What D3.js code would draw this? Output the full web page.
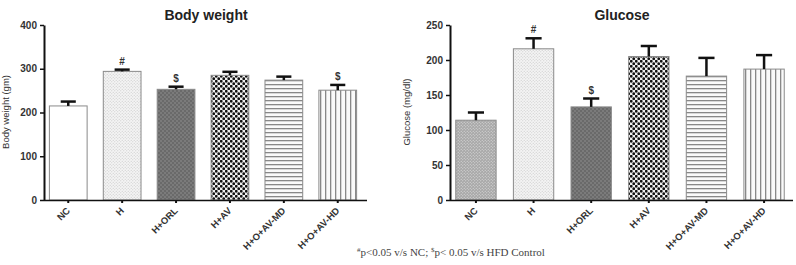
<!DOCTYPE html>
<html>
<head>
<meta charset="utf-8">
<script src="https://cdn.jsdelivr.net/npm/d3@7"></script>
<style>
  body { margin: 0; background: #fff; }
  text { font-family: Arial, "Liberation Sans", sans-serif; }
</style>
</head>
<body>
<svg id="chart" width="796" height="265"></svg>
<script>
const groups = ['NC', 'H', 'H+ORL', 'H+AV', 'H+O+AV-MD', 'H+O+AV-HD'];
const bodyWeight = [215, 294, 253, 285, 274, 251];
const bodyWeightErr = [10, 4, 6, 8, 8, 12];
const bodyWeightMarks = ['', '#', '$', '', '', '$'];
const glucose = [114, 216, 133, 205, 177, 187];
const glucoseErr = [11, 15, 12, 15, 26, 20];
const glucoseMarks = ['', '#', '$', '', '', ''];
const bodyTicks = [0, 100, 200, 300, 400];
const glucoseTicks = [0, 50, 100, 150, 200, 250];

const svg = d3.select('#chart');
const defs = svg.append('defs');

//patterns
function dotPattern(id, size, bg, dot, r) {
  let p = defs.append('pattern').attr('id', id).attr('patternUnits', 'userSpaceOnUse')
              .attr('width', size).attr('height', size);
  p.append('rect').attr('width', size).attr('height', size).attr('fill', bg);
  p.append('circle').attr('cx', size/4).attr('cy', size/4).attr('r', r).attr('fill', dot);
  p.append('circle').attr('cx', size*3/4).attr('cy', size*3/4).attr('r', r).attr('fill', dot);
}
dotPattern('pNCg', 3, '#a8a8a8', '#e0e0e0', 0.6);
dotPattern('pH', 3, '#f4f4f4', '#c8c8c8', 0.6);
dotPattern('pORL', 4, '#6a6a6a', '#9a9a9a', 0.7);
dotPattern('pAV', 5, '#f0f0f0', '#111', 1.4);
let ph = defs.append('pattern').attr('id', 'pMD').attr('patternUnits', 'userSpaceOnUse')
             .attr('width', 4).attr('height', 4);
ph.append('rect').attr('width', 4).attr('height', 4).attr('fill', '#fafafa');
ph.append('rect').attr('width', 4).attr('height', 1.3).attr('fill', '#888');
let pv = defs.append('pattern').attr('id', 'pHD').attr('patternUnits', 'userSpaceOnUse')
             .attr('width', 5).attr('height', 5);
pv.append('rect').attr('width', 5).attr('height', 5).attr('fill', '#fafafa');
pv.append('rect').attr('width', 1.3).attr('height', 5).attr('fill', '#888');

const fillsBody = ['#fff', 'url(#pH)', 'url(#pORL)', 'url(#pAV)', 'url(#pMD)', 'url(#pHD)'];
const fillsGlucose = ['url(#pNCg)', 'url(#pH)', 'url(#pORL)', 'url(#pAV)', 'url(#pMD)', 'url(#pHD)'];

function drawPanel(opt) {
  const g = svg.append('g');
  const x = d3.scaleBand().domain(groups).range([opt.x0, opt.x1]).paddingInner(0.3).paddingOuter(0.1);
  const y = d3.scaleLinear().domain([0, opt.max]).range([200, 25]);

  //bars
  g.selectAll('rect.bar').data(groups).enter().append('rect')
    .attr('class', 'bar')
    .attr('x', d => x(d))
    .attr('width', x.bandwidth())
    .attr('y', (d, i) => y(opt.values[i]))
    .attr('height', (d, i) => 200 - y(opt.values[i]))
    .attr('fill', (d, i) => opt.fills[i])
    .attr('stroke', '#8a8a8a')
    .attr('stroke-width', 1);

  //error bars (upper only)
  const cap = x.bandwidth() * 0.4;
  groups.forEach((d, i) => {
    let cx = x(d) + x.bandwidth()/2;
    let top = y(opt.values[i] + opt.errs[i]);
    g.append('line').attr('x1', cx).attr('x2', cx)
      .attr('y1', y(opt.values[i])).attr('y2', top)
      .attr('stroke', '#111').attr('stroke-width', 2.5);
    g.append('line').attr('x1', cx - cap/2).attr('x2', cx + cap/2)
      .attr('y1', top).attr('y2', top)
      .attr('stroke', '#111').attr('stroke-width', 2.5);
    if(opt.marks[i]) {
      g.append('text').attr('x', cx).attr('y', top - 5)
        .attr('text-anchor', 'middle').attr('font-size', 10).attr('font-weight', 'bold')
        .attr('fill', '#333').text(opt.marks[i]);
    }
  });

  //y axis
  const yAxis = g.append('g').attr('transform', `translate(${opt.x0},0)`)
    .call(d3.axisLeft(y).tickValues(opt.ticks).tickSize(4).tickSizeOuter(0));
  yAxis.select('.domain').attr('stroke', '#111').attr('stroke-width', 2);
  yAxis.selectAll('.tick line').attr('stroke', '#111').attr('stroke-width', 1.5);
  yAxis.selectAll('.tick text').attr('font-size', 10).attr('font-weight', 'bold').attr('fill', '#333');

  //x axis
  const xAxis = g.append('g').attr('transform', 'translate(0,200)')
    .call(d3.axisBottom(x).tickSize(3).tickSizeOuter(0));
  xAxis.select('.domain').attr('stroke', '#111').attr('stroke-width', 1.5)
    .attr('d', `M${opt.x0},0.5H${opt.xEnd}`);
  xAxis.selectAll('.tick line').attr('stroke', '#111').attr('stroke-width', 2);
  xAxis.selectAll('.tick text')
    .attr('font-size', 9.5).attr('font-weight', 'bold').attr('fill', '#333')
    .attr('text-anchor', 'end')
    .attr('transform', 'translate(0,9) rotate(-45)')
    .attr('dy', '0.35em').attr('y', 0).attr('x', 0);

  //titles
  g.append('text').attr('x', opt.titleX).attr('y', 20)
    .attr('text-anchor', 'middle').attr('font-size', 14).attr('font-weight', 'bold')
    .attr('fill', '#222').text(opt.title);
  g.append('text')
    .attr('transform', `translate(${opt.labelX},112) rotate(-90)`)
    .attr('text-anchor', 'middle').attr('font-size', 9.5).attr('fill', '#333')
    .text(opt.label);
}

drawPanel({x0: 44, x1: 362, xEnd: 367, max: 400, values: bodyWeight, errs: bodyWeightErr,
  marks: bodyWeightMarks, ticks: bodyTicks, fills: fillsBody,
  title: 'Body weight', titleX: 206, label: 'Body weight (gm)', labelX: 9});
drawPanel({x0: 450, x1: 790, xEnd: 793, max: 250, values: glucose, errs: glucoseErr,
  marks: glucoseMarks, ticks: glucoseTicks, fills: fillsGlucose,
  title: 'Glucose', titleX: 622, label: 'Glucose (mg/dl)', labelX: 410});

//footnote
const foot = svg.append('text').attr('x', 451).attr('y', 256).attr('text-anchor', 'middle')
  .attr('font-size', 11).attr('fill', '#444').style('font-family', '"Liberation Serif", serif');
foot.append('tspan').attr('font-size', 7).attr('dy', -4).text('#');
foot.append('tspan').attr('dy', 4).text('p<0.05  v/s NC; ');
foot.append('tspan').attr('font-size', 7).attr('dy', -4).text('$');
foot.append('tspan').attr('dy', 4).text('p< 0.05  v/s HFD Control');
</script>
</body>
</html>
